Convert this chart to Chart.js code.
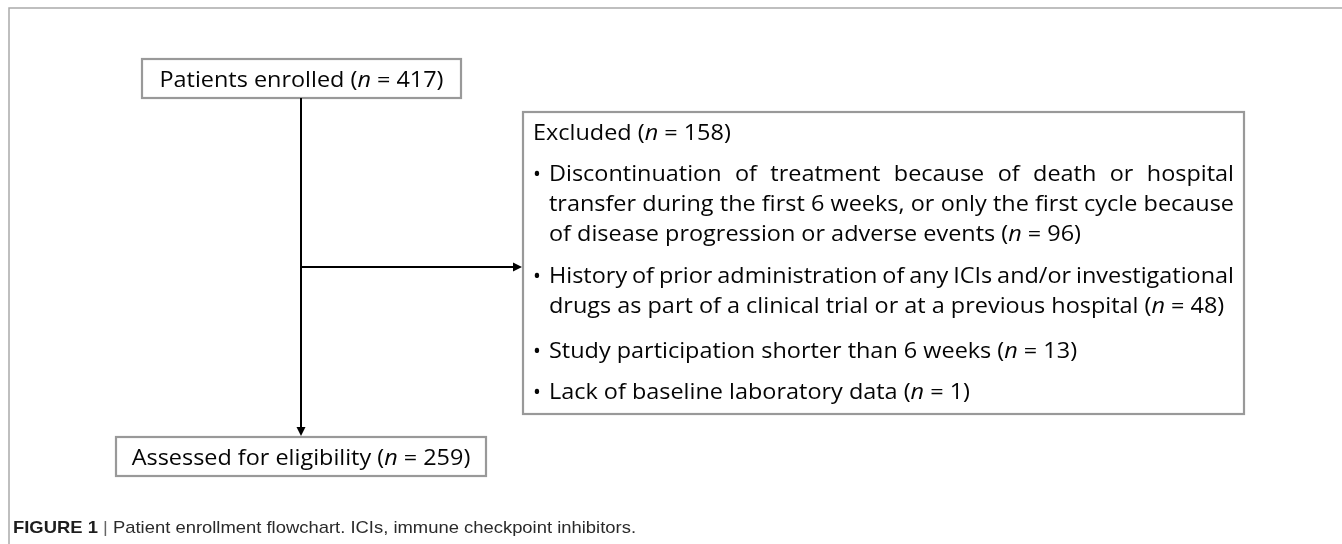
<!DOCTYPE html>
<html><head><meta charset="utf-8">
<script src="https://cdn.jsdelivr.net/npm/chart.js@4.4.1/dist/chart.umd.min.js"></script>
<style>html,body{margin:0;padding:0;background:#fff;overflow:hidden}</style>
</head><body>
<canvas id="c" width="1342" height="544"></canvas>
<script>
// ---- data ----
const stageLabels = ['Patients enrolled', 'Excluded', 'Assessed for eligibility'];
const stageCounts = [417, 158, 259];
const reasonLines = [
  ['Discontinuation of treatment because of death or hospital',
   'transfer during the first 6 weeks, or only the first cycle because',
   'of disease progression or adverse events'],
  ['History of prior administration of any ICIs and/or investigational',
   'drugs as part of a clinical trial or at a previous hospital'],
  ['Study participation shorter than 6 weeks'],
  ['Lack of baseline laboratory data']
];
const reasonCounts = [96, 48, 13, 1];
const captionLabel = 'FIGURE 1';
const captionText = 'Patient enrollment flowchart. ICIs, immune checkpoint inhibitors.';

// ---- layout (pixel positions on a 1342 x 544 value grid) ----
const layout = {
  frame: {x: 9, y: 8},
  enrolled: {x1: 142, y1: 59, x2: 461, y2: 98, base: 87, textW: 284},
  assessed: {x1: 116, y1: 437, x2: 486, y2: 476, base: 465},
  excluded: {x1: 523, y1: 112, x2: 1244, y2: 414},
  titleX: 533, titleBase: 140,
  bulletX: 537, textX: 549, textRight: 1234, calibW: 421,
  lineBases: [[181, 211, 241], [283, 313], [358], [399]],
  trunkX: 301, branchY: 267,
  caption: {x: 13, right: 636, base: 533}
};
const BOX_FONT = 22, LIST_FONT = 21, CAP_FONT = 17;
const FACE = '"Open Sans", "Noto Sans", sans-serif';
const CAP_FACE = '"Liberation Sans", Arial, sans-serif';

function nRuns(text, n) {
  return [{t: text + ' (', i: false}, {t: 'n', i: true}, {t: ' = ' + n + ')', i: false}];
}

const flowPlugin = {
  id: 'flow',
  afterDraw(chart) {
    const ctx = chart.ctx;
    const X = v => chart.scales.x.getPixelForValue(v);
    const Y = v => chart.scales.y.getPixelForValue(v);
    const font = (size, it, bold, face) => (it ? 'italic ' : '') + (bold ? 'bold ' : '') + size + 'px ' + (face || FACE);
    const runW = (runs, size, face) => runs.reduce((s, r) => { ctx.font = font(size, r.i, r.b, face); return s + ctx.measureText(r.t).width; }, 0);
    const drawRuns = (runs, x, y, size, sx, face, color) => {
      let cx = x;
      runs.forEach(r => {
        ctx.font = font(size, r.i, r.b, face);
        ctx.fillStyle = r.c || color || '#050505';
        ctx.save(); ctx.translate(cx, y); ctx.scale(sx, 1); ctx.fillText(r.t, 0, 0); ctx.restore();
        cx += ctx.measureText(r.t).width * sx;
      });
      return cx;
    };
    ctx.save();
    ctx.textBaseline = 'alphabetic';
    ctx.textAlign = 'left';

    // outer frame (top + left)
    ctx.strokeStyle = '#ababab'; ctx.lineWidth = 1.5;
    ctx.beginPath();
    ctx.moveTo(X(1342), Y(layout.frame.y)); ctx.lineTo(X(layout.frame.x), Y(layout.frame.y)); ctx.lineTo(X(layout.frame.x), Y(544));
    ctx.stroke();

    // boxes
    const box = b => {
      ctx.strokeStyle = '#999'; ctx.lineWidth = 2.2;
      ctx.strokeRect(X(b.x1), Y(b.y1), X(b.x2) - X(b.x1), Y(b.y2) - Y(b.y1));
    };
    box(layout.enrolled); box(layout.excluded); box(layout.assessed);

    // arrows
    ctx.strokeStyle = '#000'; ctx.fillStyle = '#000'; ctx.lineWidth = 2;
    const tx = X(layout.trunkX);
    const ay = Y(layout.assessed.y1);
    ctx.beginPath(); ctx.moveTo(tx, Y(layout.enrolled.y2)); ctx.lineTo(tx, ay - 8); ctx.stroke();
    ctx.beginPath(); ctx.moveTo(tx, ay - 1); ctx.lineTo(tx - 4.5, ay - 10); ctx.lineTo(tx + 4.5, ay - 10); ctx.closePath(); ctx.fill();
    const by = Y(layout.branchY), bx = X(layout.excluded.x1);
    ctx.beginPath(); ctx.moveTo(tx, by); ctx.lineTo(bx - 8, by); ctx.stroke();
    ctx.beginPath(); ctx.moveTo(bx - 1, by); ctx.lineTo(bx - 10, by - 4.5); ctx.lineTo(bx - 10, by + 4.5); ctx.closePath(); ctx.fill();

    // box texts
    const r1 = nRuns(stageLabels[0], stageCounts[0]);
    const boxSx = layout.enrolled.textW / runW(r1, BOX_FONT);
    const centred = (runs, b) => {
      const w = runW(runs, BOX_FONT) * boxSx;
      drawRuns(runs, (X(b.x1) + X(b.x2)) / 2 - w / 2, Y(b.base), BOX_FONT, boxSx);
    };
    centred(r1, layout.enrolled);
    centred(nRuns(stageLabels[2], stageCounts[2]), layout.assessed);

    // excluded list
    const lastIdx = reasonLines.length - 1;
    const calib = nRuns(reasonLines[lastIdx][0], reasonCounts[lastIdx]);
    const listSx = layout.calibW / runW(calib, LIST_FONT);
    drawRuns(nRuns(stageLabels[1], stageCounts[1]), X(layout.titleX), Y(layout.titleBase), LIST_FONT, listSx);
    const full = X(layout.textRight) - X(layout.textX);
    reasonLines.forEach((lines, k) => {
      lines.forEach((ln, j) => {
        const y = Y(layout.lineBases[k][j]);
        if (j === 0) {
          ctx.font = font(LIST_FONT); ctx.fillStyle = '#050505';
          ctx.save(); ctx.translate(X(layout.bulletX), y); ctx.textAlign = 'center'; ctx.fillText('•', 0, 0); ctx.restore();
        }
        if (j < lines.length - 1) {
          const words = ln.split(' ');
          ctx.font = font(LIST_FONT);
          const ww = words.map(w => ctx.measureText(w).width * listSx);
          const gap = (full - ww.reduce((a, b) => a + b, 0)) / (words.length - 1);
          let cx = X(layout.textX);
          words.forEach((w, q) => { drawRuns([{t: w}], cx, y, LIST_FONT, listSx); cx += ww[q] + gap; });
        } else {
          drawRuns(nRuns(ln, reasonCounts[k]), X(layout.textX), y, LIST_FONT, listSx);
        }
      });
    });

    // caption
    const cap = [{t: captionLabel, b: true, c: '#1e1e1e'}, {t: ' | ', c: '#666'}, {t: captionText, c: '#2a2a2a'}];
    const capSx = (X(layout.caption.right) - X(layout.caption.x)) / runW(cap, CAP_FONT, CAP_FACE);
    drawRuns(cap, X(layout.caption.x), Y(layout.caption.base), CAP_FONT, capSx, CAP_FACE);
    ctx.restore();
  }
};

function build() {
  new Chart(document.getElementById('c'), {
    type: 'scatter',
    data: {datasets: [{data: [], pointRadius: 0}]},
    options: {
      responsive: false, animation: false, events: [],
      layout: {padding: 0},
      plugins: {legend: {display: false}, tooltip: {enabled: false}},
      scales: {
        x: {type: 'linear', min: 0, max: 1342, display: false},
        y: {type: 'linear', min: 0, max: 544, reverse: true, display: false}
      }
    },
    plugins: [flowPlugin]
  });
}
Promise.all([
  document.fonts.load('20px "Open Sans"'),
  document.fonts.load('italic 20px "Open Sans"'),
  document.fonts.load('17px "Liberation Sans"'),
  document.fonts.load('bold 17px "Liberation Sans"')
]).then(build, build);
</script>
</body></html>
